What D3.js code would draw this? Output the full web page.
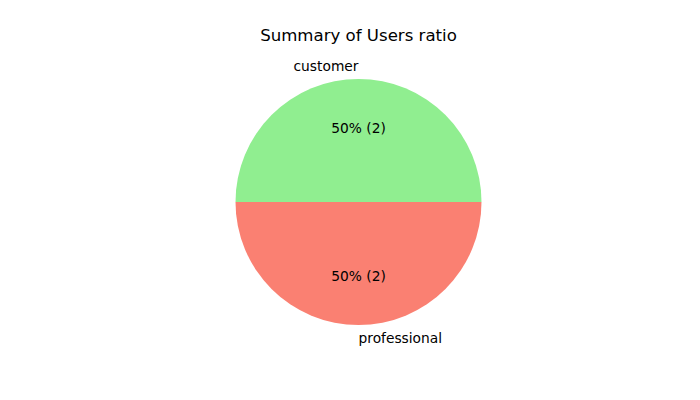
<!DOCTYPE html>
<html><head><meta charset="utf-8">
<script src="https://cdn.jsdelivr.net/npm/d3@7"></script>
<style>body{margin:0;background:#fff}svg{display:block}</style>
</head><body>
<svg id="c" width="700" height="400"></svg>
<script>
const categories = ["customer", "professional"];
const values = [2, 2];
const colors = ["#90EE90", "#FA8072"];
const title = "Summary of Users ratio";

const svg = d3.select("#c");
const W = 700, H = 400, cx = 358.5, cy = 202, R = 123;
const font = "DejaVu Sans, sans-serif";
svg.append("rect").attr("width", W).attr("height", H).attr("fill", "#fff");

svg.append("text").attr("x", cx).attr("y", 35).attr("text-anchor", "middle")
  .attr("dominant-baseline", "central").attr("font-family", font).attr("font-size", 16.6).text(title);

const total = d3.sum(values);
// matplotlib: starts at east going counterclockwise; convert to d3 angles (clockwise from north)
const pie = d3.pie().sort(null).value(d => d)
  .startAngle(Math.PI / 2).endAngle(Math.PI / 2 - 2 * Math.PI);
const arcs = pie(values);
const arc = d3.arc().innerRadius(0).outerRadius(R);
const g = svg.append("g").attr("transform", `translate(${cx},${cy})`);
g.selectAll("path").data(arcs).join("path").attr("d", arc).attr("fill", (d, i) => colors[i]);

arcs.forEach((d, i) => {
  const mid = (d.startAngle + d.endAngle) / 2;
  const x = Math.sin(mid), y = -Math.cos(mid);
  const pct = Math.round(values[i] / total * 100);
  g.append("text").attr("x", 0.6 * R * x).attr("y", 0.6 * R * y)
    .attr("text-anchor", "middle").attr("dominant-baseline", "central")
    .attr("font-family", font).attr("font-size", 13.8).text(`${pct}% (${values[i]})`);
  g.append("text").attr("x", 1.1 * R * x).attr("y", 1.1 * R * y + (y < 0 ? -1 : 0.5))
    .attr("text-anchor", i === 0 ? "end" : "start").attr("dominant-baseline", "central")
    .attr("font-family", font).attr("font-size", 13.8).text(categories[i]);
});
</script>
</body></html>
